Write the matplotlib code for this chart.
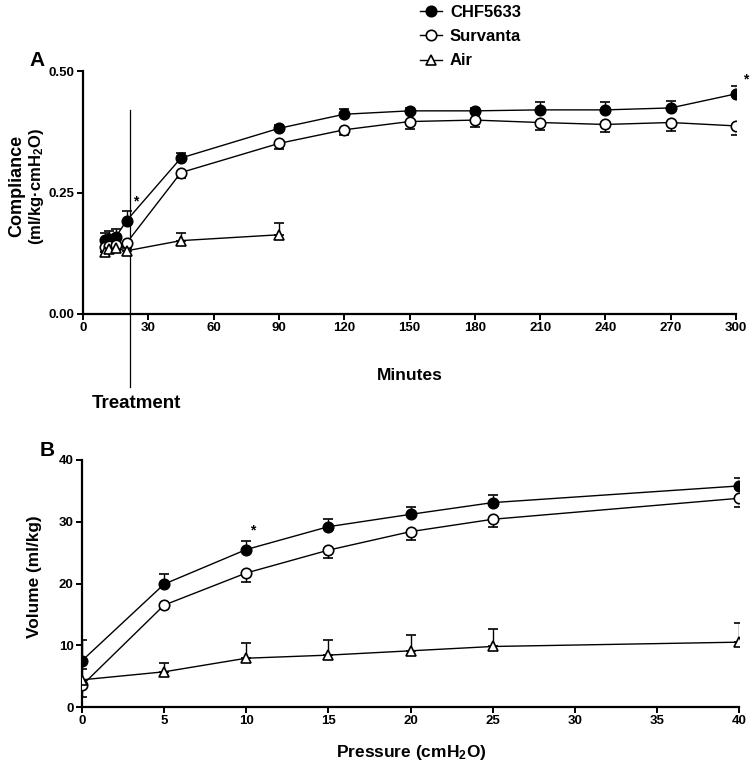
import numpy as np
import matplotlib
matplotlib.use("Agg")
import matplotlib.pyplot as plt
from matplotlib.lines import Line2D

# fonts: arial-like bold everywhere, subscripts too
plt.rcParams['font.family'] = ['Liberation Sans', 'DejaVu Sans']
plt.rcParams['font.weight'] = 'bold'
plt.rcParams['mathtext.fontset'] = 'custom'
plt.rcParams['mathtext.rm'] = 'Liberation Sans:bold'
plt.rcParams['mathtext.it'] = 'Liberation Sans:bold'
plt.rcParams['mathtext.bf'] = 'Liberation Sans:bold'
plt.rcParams['mathtext.default'] = 'rm'

# panel A data: compliance over time
time_a = [10, 12, 15, 20, 45, 90, 120, 150, 180, 210, 240, 270, 300]
chf_a = [0.152, 0.155, 0.158, 0.192, 0.321, 0.382, 0.411, 0.418, 0.418, 0.420, 0.420, 0.424, 0.453]
chf_a_err = [0.014, 0.015, 0.017, 0.019, 0.011, 0.006, 0.011, 0.006, 0.006, 0.017, 0.017, 0.014, 0.017]
sur_a = [0.138, 0.140, 0.142, 0.146, 0.291, 0.351, 0.379, 0.396, 0.399, 0.394, 0.390, 0.394, 0.387]
sur_a_err = [0.010, 0.010, 0.010, 0.010, 0.011, 0.012, 0.011, 0.016, 0.015, 0.015, 0.015, 0.017, 0.019]
time_air_a = [10, 12, 15, 20, 45, 90]
air_a = [0.127, 0.133, 0.135, 0.130, 0.151, 0.163]
air_a_err = [0.008, 0.008, 0.008, 0.010, 0.015, 0.025]
treatment_time = 21.5

# panel B data: pressure-volume curve
pressure = [0, 5, 10, 15, 20, 25, 40]
chf_b = [7.5, 19.9, 25.5, 29.2, 31.2, 33.1, 35.8]
chf_b_err = [3.3, 1.6, 1.4, 1.2, 1.2, 1.3, 1.3]
sur_b = [3.5, 16.5, 21.7, 25.4, 28.4, 30.4, 33.8]
sur_b_err = [1.8, 0.6, 1.4, 1.3, 1.4, 1.2, 1.4]
air_b = [4.4, 5.7, 7.9, 8.4, 9.1, 9.8, 10.5]
air_b_err = [1.8, 1.4, 2.4, 2.4, 2.5, 2.9, 3.1]

labels = ["CHF5633", "Survanta", "Air"]

W, H = 755, 770
fig = plt.figure(figsize=(W / 100, H / 100), dpi=100)


def px_axes(left, right, top, bottom):
    # axes rectangle from pixel edges
    return fig.add_axes([left / W, 1 - bottom / H, (right - left) / W, (bottom - top) / H])


ax_a = px_axes(83, 736, 71, 314)
ax_b = px_axes(82, 739, 460, 707)

ms = 7.5
lw = 1.0


def draw_series(ax, x, y, err, marker, face, up=True):
    err = np.array(err)
    zeros = np.zeros_like(err)
    yerr = [zeros, err] if up else [err, zeros]
    ax.errorbar(x, y, yerr=yerr, fmt='none', ecolor='black', elinewidth=1.0,
                capsize=3.5, capthick=1.2, zorder=2)
    line, = ax.plot(x, y, color='black', lw=lw, marker=marker, ms=ms,
                    mfc=face, mec='black', mew=1.2, zorder=3)
    return line


h1 = draw_series(ax_a, time_a, chf_a, chf_a_err, 'o', 'black', up=True)
h2 = draw_series(ax_a, time_a, sur_a, sur_a_err, 'o', 'white', up=False)
h3 = draw_series(ax_a, time_air_a, air_a, air_a_err, '^', 'white', up=True)

draw_series(ax_b, pressure, chf_b, chf_b_err, 'o', 'black', up=True)
draw_series(ax_b, pressure, sur_b, sur_b_err, 'o', 'white', up=False)
draw_series(ax_b, pressure, air_b, air_b_err, '^', 'white', up=True)

# treatment marker line running below the axis
ax_a.add_line(Line2D([treatment_time, treatment_time], [-0.150, 0.420], color='black',
                     lw=0.9, clip_on=False, zorder=1))

# significance stars
ax_a.text(24, 0.231, "*", fontsize=10, ha='center', va='center')
ax_a.text(304.5, 0.483, "*", fontsize=10, ha='center', va='center', clip_on=False)
ax_b.text(10.4, 28.6, "*", fontsize=10, ha='center', va='center')

for ax in (ax_a, ax_b):
    for side in ('top', 'right'):
        ax.spines[side].set_visible(False)
    for side in ('left', 'bottom'):
        ax.spines[side].set_linewidth(1.6)
    ax.tick_params(direction='out', length=4, width=1.4, labelsize=9.5, pad=2)

ax_a.set_xlim(0, 300)
ax_a.set_ylim(0, 0.5)
ax_a.set_xticks(np.arange(0, 301, 30))
ax_a.set_yticks([0.0, 0.25, 0.5])
ax_a.set_yticklabels(["0.00", "0.25", "0.50"])

ax_b.set_xlim(0, 40)
ax_b.set_ylim(0, 40)
ax_b.set_xticks(np.arange(0, 41, 5))
ax_b.set_yticks(np.arange(0, 41, 10))

for ax in (ax_a, ax_b):
    for lab in ax.get_xticklabels() + ax.get_yticklabels():
        lab.set_fontweight('bold')

# labels placed in pixel positions of the figure
fig.text(37 / W, 1 - 61 / H, "A", fontsize=15, ha='center', va='center')
fig.text(47 / W, 1 - 450 / H, "B", fontsize=15, ha='center', va='center')
fig.text(410 / W, 1 - 375 / H, "Minutes", fontsize=12.5, ha='center', va='center')
fig.text(136 / W, 1 - 404 / H, "Treatment", fontsize=13.5, ha='center', va='center')
fig.text(411 / W, 1 - 753 / H, "Pressure (cmH$_2$O)", fontsize=12.5, ha='center', va='center')
fig.text(17 / W, 1 - 186 / H, "Compliance", fontsize=13, rotation=90, ha='center', va='center')
fig.text(36 / W, 1 - 186 / H, "(ml/kg\u00b7cmH$_2$O)", fontsize=12, rotation=90, ha='center', va='center')
fig.text(35 / W, 1 - 577 / H, "Volume (ml/kg)", fontsize=12.4, rotation=90, ha='center', va='center')

fig.legend([h1, h2, h3], labels, loc='upper left', bbox_to_anchor=(420 / W, 1 - 5 / H),
           frameon=False, fontsize=12, handlelength=1.3, handletextpad=0.5,
           labelspacing=0.55, borderpad=0, borderaxespad=0)

fig.savefig("out.png", dpi=100)
